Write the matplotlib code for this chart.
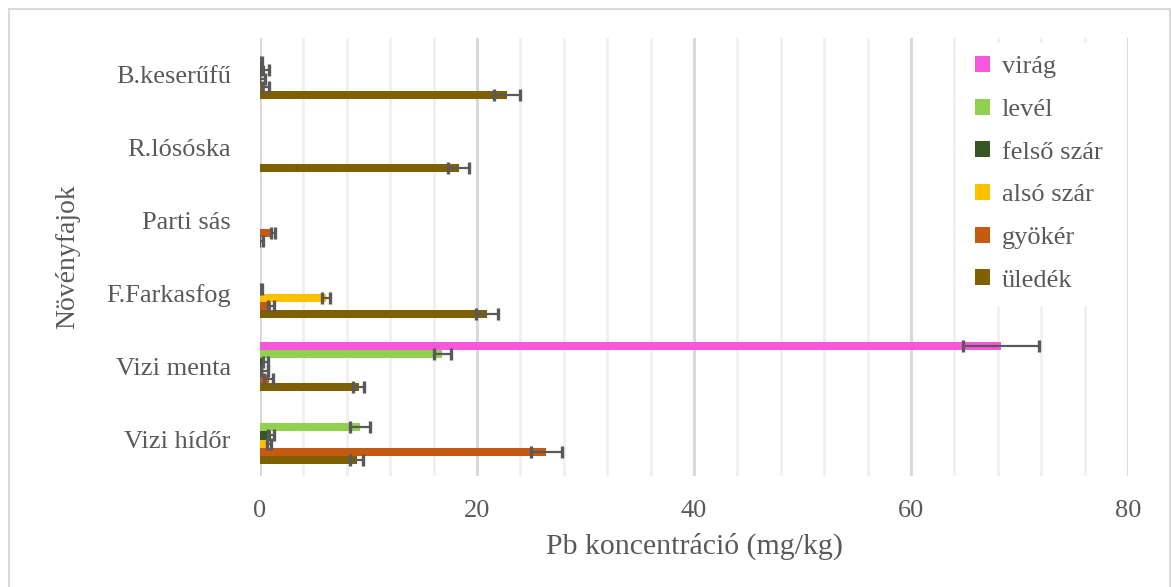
import matplotlib
matplotlib.use("Agg")
import matplotlib.pyplot as plt
import numpy as np
from matplotlib.patches import Rectangle

categories = ["Vizi hídőr", "Vizi menta", "F.Farkasfog", "Parti sás", "R.lósóska", "B.keserűfű"]
series = ["virág", "levél", "felső szár", "alsó szár", "gyökér", "üledék"]
colors = ["#F757DC", "#92D050", "#375623", "#FFC000", "#C55A11", "#7F6000"]

virag = [0, 68.3, 0, 0, 0, 0]
virag_err = [0, 3.5, 0, 0, 0, 0]
level = [9.2, 16.8, 0, 0, 0, 0.05]
level_err = [0.9, 0.8, 0, 0, 0, 0.1]
felso = [1.0, 0.5, 0.05, 0, 0, 0.5]
felso_err = [0.3, 0.2, 0.1, 0, 0, 0.3]
also = [0.8, 0.4, 6.1, 0, 0, 0.2]
also_err = [0.2, 0.3, 0.35, 0, 0, 0.3]
gyoker = [26.4, 0.8, 1.0, 1.2, 0, 0.5]
gyoker_err = [1.4, 0.4, 0.3, 0.2, 0, 0.3]
uledek = [8.9, 9.1, 20.9, 0.1, 18.3, 22.8]
uledek_err = [0.6, 0.5, 1.0, 0.15, 1.0, 1.2]

values = [virag, level, felso, also, gyoker, uledek]
errors = [virag_err, level_err, felso_err, also_err, gyoker_err, uledek_err]

W, H = 1171, 587
fig = plt.figure(figsize=(W / 100, H / 100), dpi=100)
ax = fig.add_axes([260 / W, 1 - 476 / H, (1128 - 260) / W, (476 - 38) / H])

txt = "#595959"
serif = "Liberation Serif"

n = len(series)
bh = (2 / 3) / n
y = np.arange(len(categories))
for i, (name, vals, errs, c) in enumerate(zip(series, values, errors, colors)):
    off = (n - 1) / 2 * bh - i * bh
    ypos = y + off
    ax.barh(ypos, vals, height=bh, color=c, label=name, zorder=3)
    for yy, v, e in zip(ypos, vals, errs):
        if e > 0:
            ax.errorbar(v, yy, xerr=e, fmt="none", ecolor="#595959",
                        elinewidth=1.6, capsize=4, capthick=2.4, zorder=4)

ax.set_xlim(0, 80)
ax.set_ylim(-0.5, len(categories) - 0.5)
ax.set_xticks(np.arange(0, 81, 20))
ax.grid(False)
for xv in np.arange(0, 81, 4):
    if xv % 20 == 0:
        ax.axvline(xv, color="#D9D9D9", lw=2.2, zorder=1)
    else:
        ax.axvline(xv, color="#EEEEEE", lw=1.8, zorder=1)
ax.tick_params(axis="both", which="both", length=0)
ax.set_yticks(y)
ax.set_yticklabels(categories, fontsize=19, color=txt, family=serif)
ax.tick_params(axis="y", pad=21)
ax.tick_params(axis="x", pad=17)
for lab in ax.get_xticklabels():
    lab.set_fontsize(19)
    lab.set_color(txt)
    lab.set_family(serif)
for s in ax.spines.values():
    s.set_visible(False)

ax.set_xlabel("Pb koncentráció (mg/kg)", fontsize=21.5, color=txt, family=serif, labelpad=8)
ax.set_ylabel("Növényfajok", fontsize=20, color=txt, family=serif)
ax.yaxis.set_label_coords(80 / W, 1 - 257 / H, transform=fig.transFigure)

leg = ax.legend(loc="upper left", bbox_to_anchor=(962 / W, 1 - 43 / H),
                bbox_transform=fig.transFigure, frameon=True, facecolor="white",
                edgecolor="white", framealpha=1, fancybox=False,
                prop={"family": serif, "size": 19}, labelcolor=txt,
                handlelength=0.55, handleheight=0.55, handletextpad=0.45,
                labelspacing=0.77, borderpad=0.5, borderaxespad=0)
leg.set_zorder(5)

fig.patches.append(Rectangle((9 / W, -10 / H), (1170 - 9) / W, (578 + 10) / H,
                             transform=fig.transFigure, fill=False,
                             edgecolor="#D9D9D9", lw=1.5))

fig.savefig("out.png", dpi=100)
